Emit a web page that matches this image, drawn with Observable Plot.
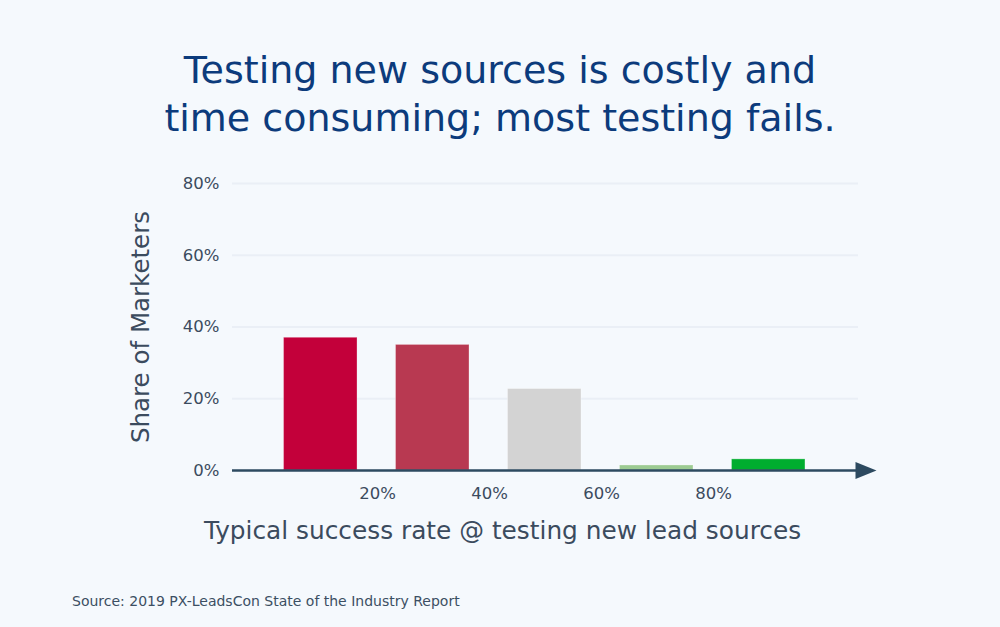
<!DOCTYPE html>
<html><head><meta charset="utf-8">
<script src="https://cdn.jsdelivr.net/npm/d3@7"></script>
<script src="https://cdn.jsdelivr.net/npm/@observablehq/plot@0.6"></script>
<style>
html,body{margin:0;padding:0;background:#f5f9fd;width:1000px;height:627px;overflow:hidden;font-family:"DejaVu Sans",sans-serif;}
#title{position:absolute;left:0;top:46px;width:1000px;text-align:center;color:#0c3b7c;font-size:38px;line-height:48px;}
#chart{position:absolute;left:0;top:150px;}
#source{position:absolute;left:72px;top:593px;font-size:14px;color:#3c4f63;}
</style></head><body>
<div id="title">Testing new sources is costly and<br>time consuming; most testing fails.</div>
<div id="chart"></div>
<div id="source">Source: 2019 PX-LeadsCon State of the Industry Report</div>
<script>
const binStart = [0, 20, 40, 60, 80];
const binEnd = [20, 40, 60, 80, 100];
const shares = [37, 35, 22.7, 1.4, 3.1];
const barColors = ["#c3003a", "#b83951", "#d3d3d3", "#9ccb92", "#00ad2f"];
const xTicks = [20, 40, 60, 80];
const yTicks = [0, 20, 40, 60, 80];
const xLabel = "Typical success rate @ testing new lead sources";
const yLabel = "Share of Marketers";

const data = binStart.map((s, i) => ({x1: s, x2: binEnd[i], y: shares[i], color: barColors[i]}));
const ink = "#3b4b5e";
const arrowHead = {draw(ctx) { ctx.moveTo(-10.5, -8.5); ctx.lineTo(10.5, 0); ctx.lineTo(-10.5, 8.5); ctx.closePath(); }};

const chart = Plot.plot({
  width: 1000,
  height: 410,
  marginLeft: 232,
  marginRight: 142,
  marginTop: 33,
  marginBottom: 90,
  style: {background: "transparent", fontFamily: '"DejaVu Sans", sans-serif', fontSize: "16.5px", color: ink, overflow: "visible"},
  x: {domain: [-5.9, 105.9], ticks: xTicks, tickFormat: d => d + "%", tickSize: 0, tickPadding: 17, label: null},
  y: {domain: [0, 80], ticks: yTicks, tickFormat: d => d + "%", tickSize: 0, tickPadding: 13, label: null},
  marks: [
    Plot.ruleY(yTicks.filter(d => d > 0), {stroke: "#eaeff6", strokeWidth: 2}),
    Plot.rectY(data, {x1: "x1", x2: "x2", y: "y", fill: "color", insetLeft: 18.5, insetRight: 20, stroke: "white", strokeOpacity: 0.3, strokeWidth: 1}),
    Plot.ruleY([0], {stroke: "#2d4a60", strokeWidth: 2.5}),
    Plot.dot([0], {y: d => d, frameAnchor: "right", dx: 7.5, symbol: arrowHead, fill: "#2d4a60", stroke: "none"}),
    Plot.text([yLabel], {frameAnchor: "left", textAnchor: "middle", rotate: -90, dx: -91, fontSize: 24.5, fill: ink}),
    Plot.text([xLabel], {frameAnchor: "bottom", textAnchor: "middle", dx: -43, dy: 68, fontSize: 24.8, fill: ink})
  ]
});
document.getElementById("chart").append(chart);
</script>
</body></html>
